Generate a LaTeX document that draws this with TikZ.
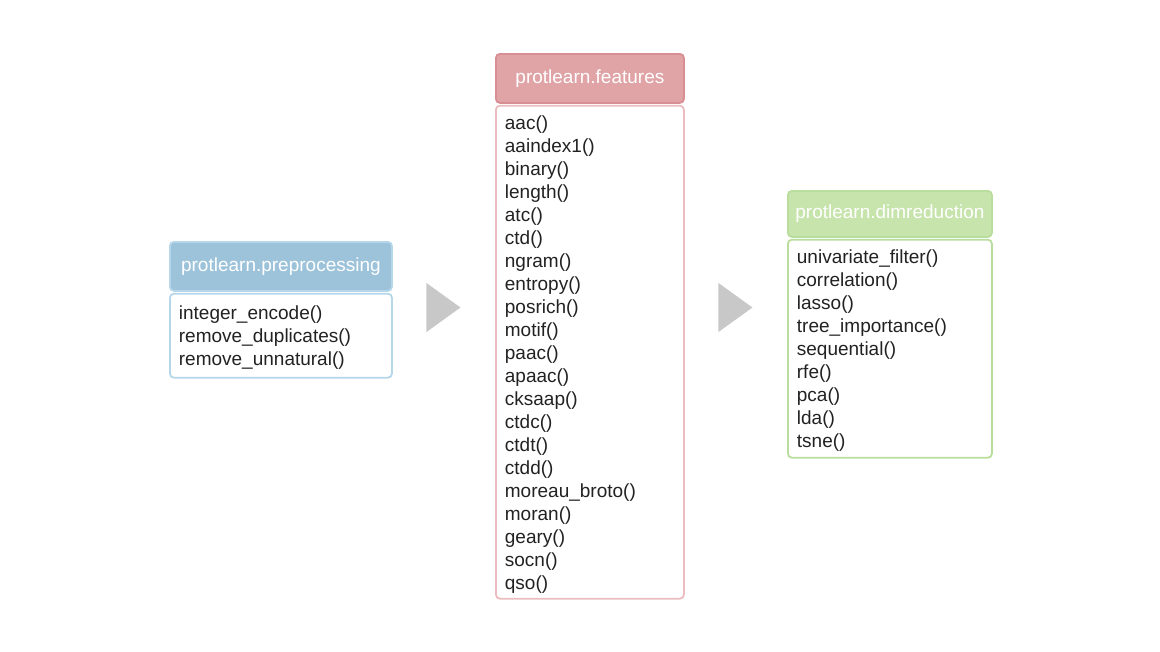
\documentclass[tikz,border=0pt]{standalone}
\usepackage{fontspec}
\setmainfont{Liberation Sans}
\usetikzlibrary{positioning,shapes.geometric}
\definecolor{preFill}{HTML}{9DC3DA}
\definecolor{preLine}{HTML}{B6D7EA}
\definecolor{featFill}{HTML}{E0A3A6}
\definecolor{featLine}{HTML}{D98E93}
\definecolor{featBody}{HTML}{EBBDC0}
\definecolor{dimFill}{HTML}{C6E4AB}
\definecolor{dimLine}{HTML}{B9DD9C}
\definecolor{txt}{HTML}{222222}
\definecolor{triGray}{HTML}{C8C8C8}
\newcommand{\modfont}{\fontsize{19}{23}\selectfont}
\newcommand{\toplift}{\rule{0pt}{18pt}}

\begin{document}
\begin{tikzpicture}[x=1pt,y=-1pt,
  modhead/.style={line width=1.8pt,rounded corners=4pt,text=white,
    font=\modfont,anchor=north west,inner sep=0pt},
  modbody/.style={fill=white,line width=1.8pt,rounded corners=4pt,
    text=txt,font=\modfont,align=left,inner xsep=9pt,inner ysep=0pt},
  tri/.style={isosceles triangle,isosceles triangle stretches,fill=triGray,
    inner sep=0pt,minimum width=49pt,minimum height=34pt}]
  \useasboundingbox (0,0) rectangle (1160,651);

  % preprocessing
  \node[modhead,fill=preFill,draw=preLine,
    minimum width=222pt,minimum height=49pt] (prehead) at (169,241)
    {protlearn.preprocessing};
  \node[modbody,draw=preLine,below=1pt of prehead,
    minimum width=222pt,minimum height=84pt,text width=204pt] (prebody)
    {\toplift integer\_encode()\\remove\_duplicates()\\remove\_unnatural()};

  % features
  \node[modhead,fill=featFill,draw=featLine,
    minimum width=188pt,minimum height=49pt] (feathead) at (495,53)
    {protlearn.features};
  \node[modbody,draw=featBody,below=1pt of feathead,
    minimum width=188pt,minimum height=493pt,text width=170pt] (featbody)
    {\toplift aac()\\aaindex1()\\binary()\\length()\\atc()\\ctd()\\ngram()\\entropy()\\
     posrich()\\motif()\\paac()\\apaac()\\cksaap()\\ctdc()\\ctdt()\\ctdd()\\
     moreau\_broto()\\moran()\\geary()\\socn()\\qso()};

  % dimreduction
  \node[modhead,fill=dimFill,draw=dimLine,
    minimum width=204pt,minimum height=46pt] (dimhead) at (787,190)
    {protlearn.dimreduction};
  \node[modbody,draw=dimLine,below=1pt of dimhead,
    minimum width=204pt,minimum height=218pt,text width=186pt] (dimbody)
    {\toplift univariate\_filter()\\correlation()\\lasso()\\tree\_importance()\\
     sequential()\\rfe()\\pca()\\lda()\\tsne()};

  % arrows between modules
  \node[tri] (arr1) at (439,307.5) {};
  \node[tri] (arr2) at (731,307.5) {};
\end{tikzpicture}
\end{document}
